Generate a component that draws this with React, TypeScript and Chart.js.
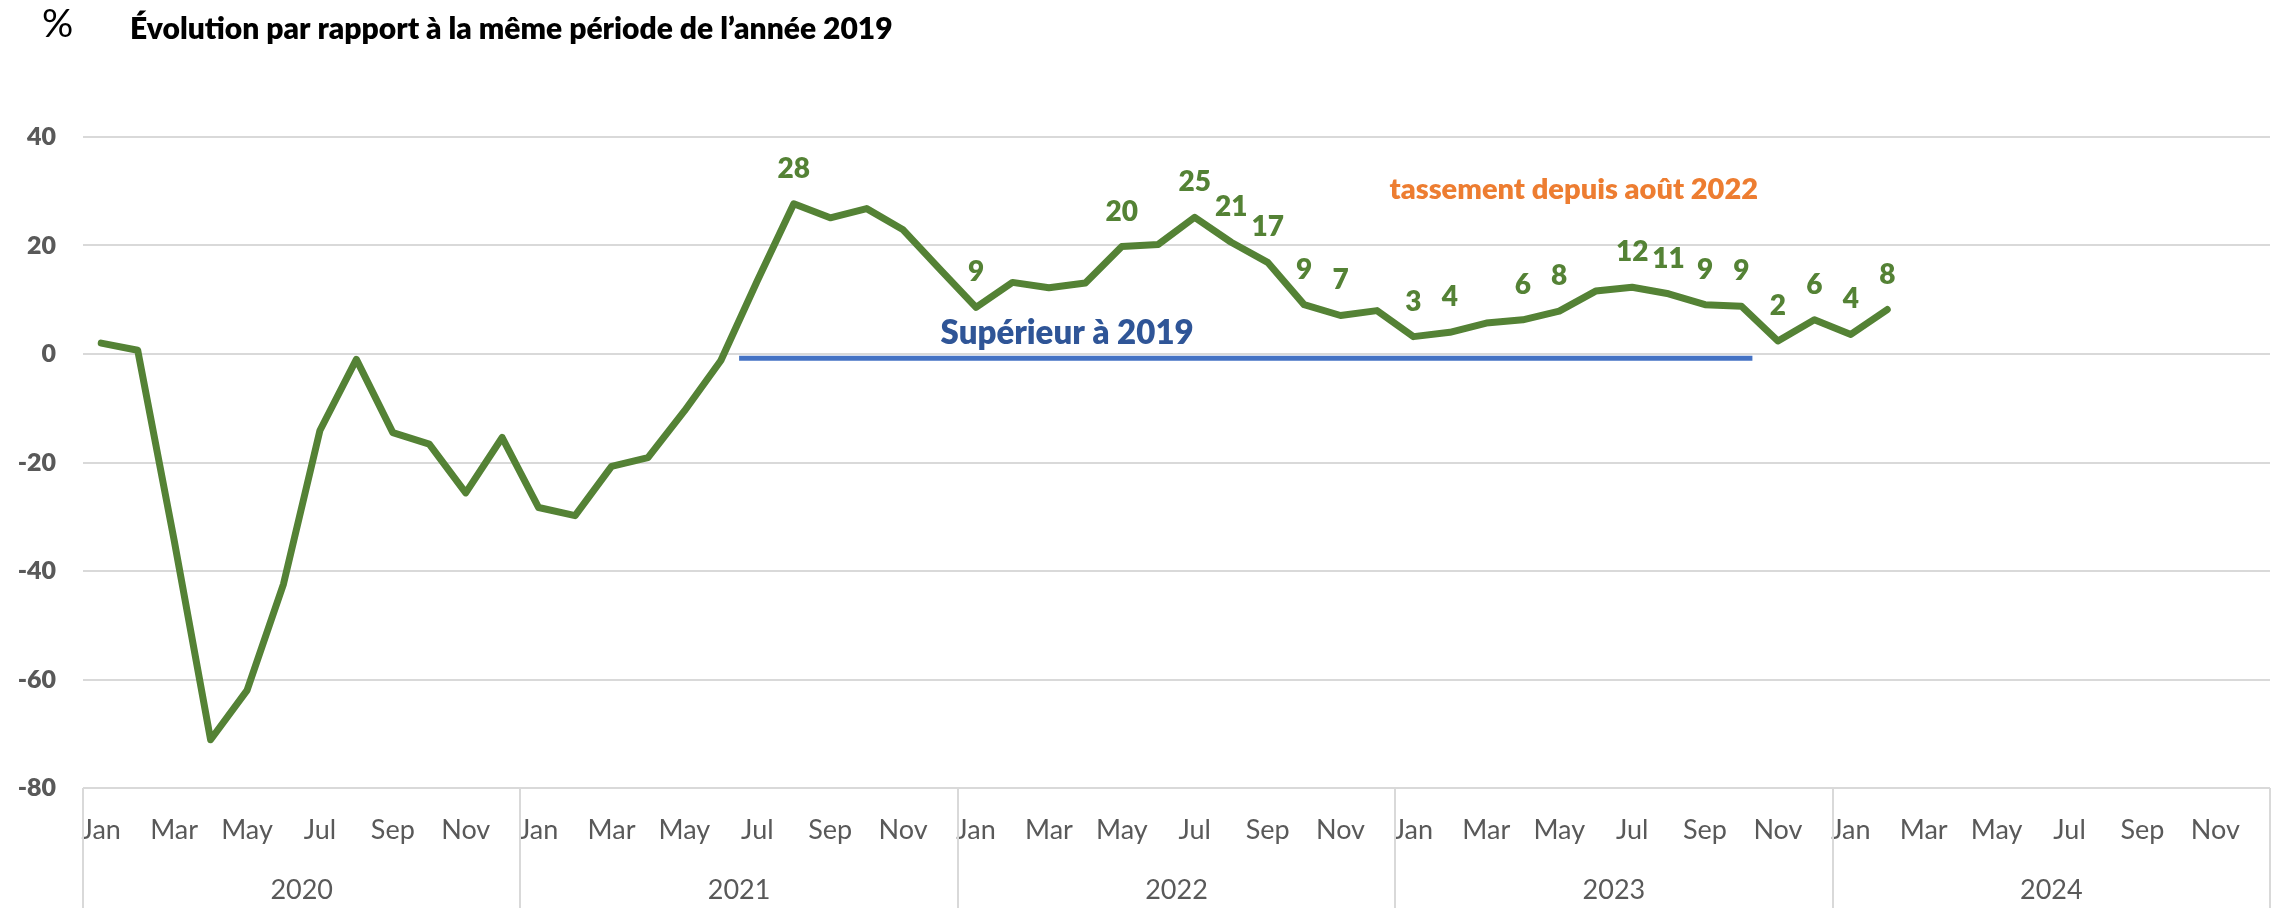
import React, { useEffect, useRef } from 'react';
import { Chart, registerables } from 'chart.js';

Chart.register(...registerables);

// ---- Data ----
const monthNames = ['Jan', 'Feb', 'Mar', 'Apr', 'May', 'Jun', 'Jul', 'Aug', 'Sep', 'Oct', 'Nov', 'Dec'];
const years = ['2020', '2021', '2022', '2023', '2024'];
const shownMonths = [0, 2, 4, 6, 8, 10]; // Jan, Mar, May, Jul, Sep, Nov
const values2020 = [2.0, 0.7, -34.3, -71.1, -62.0, -42.4, -14.1, -1.0, -14.5, -16.6, -25.6, -15.4];
const values2021 = [-28.3, -29.8, -20.7, -19.1, -10.5, -1.2, 13.5, 27.7, 25.1, 26.8, 22.9, 15.7];
const values2022 = [8.6, 13.2, 12.2, 13.1, 19.8, 20.2, 25.2, 20.6, 16.9, 9.1, 7.1, 8.0];
const values2023 = [3.2, 4.0, 5.7, 6.3, 7.9, 11.6, 12.3, 11.1, 9.1, 8.8, 2.4, 6.3];
const values2024 = [3.6, 8.2];
const labelledIndices = [19, 24, 28, 30, 31, 32, 33, 34, 36, 37, 39, 40, 42, 43, 44, 45, 46, 47, 48, 49];
const superieurLine = [
  { x: 17.5, y: -0.8 },
  { x: 45.3, y: -0.8 },
];
const yMin = -80;
const yMax = 40;
const yStep = 20;

const unitText = '%';
const titleText = 'Évolution par rapport à la même période de l’année 2019';
const superieurText = 'Supérieur à 2019';
const tassementText = 'tassement depuis août 2022';

const allValues = [...values2020, ...values2021, ...values2022, ...values2023, ...values2024];
const linePoints = allValues.map((v, i) => ({ x: i, y: v }));
const tickValues: number[] = [];
years.forEach((_, yi) => shownMonths.forEach((m) => tickValues.push(yi * 12 + m)));
const monthCount = years.length * 12;

const GREEN = '#548235';
const GRAY = '#595959';
const GRID = '#D9D9D9';
const FONT = 'Lato, "Open Sans", sans-serif';

const decorPlugin = {
  id: 'decor',
  afterDraw(chart: any) {
    const ctx = chart.ctx;
    const xs = chart.scales.x;
    const ys = chart.scales.y;
    ctx.save();
    // title
    ctx.fillStyle = '#000000';
    ctx.textBaseline = 'alphabetic';
    ctx.textAlign = 'left';
    ctx.font = `normal 39px ${FONT}`;
    ctx.fillText(unitText, 42, 37);
    ctx.font = `800 30px ${FONT}`;
    ctx.fillText(titleText, 130, 39);

    // year separators
    ctx.strokeStyle = GRID;
    ctx.lineWidth = 2;
    for (let k = 0; k <= years.length; k++) {
      const x = Math.round(xs.getPixelForValue(k * 12 - 0.5));
      ctx.beginPath();
      ctx.moveTo(x, xs.top);
      ctx.lineTo(x, chart.height);
      ctx.stroke();
    }
    // year labels
    ctx.fillStyle = GRAY;
    ctx.font = `normal 27px ${FONT}`;
    ctx.textAlign = 'center';
    ctx.textBaseline = 'middle';
    years.forEach((y, k) => {
      ctx.fillText(y, xs.getPixelForValue(k * 12 + 5.5), xs.top + 102);
    });

    // annotations
    ctx.textBaseline = 'alphabetic';
    ctx.font = `800 33px ${FONT}`;
    ctx.fillStyle = '#2F5597';
    ctx.fillText(superieurText, xs.getPixelForValue(26.5), ys.getPixelForValue(1.9));
    ctx.font = `800 29px ${FONT}`;
    ctx.fillStyle = '#ED7D31';
    ctx.fillText(tassementText, xs.getPixelForValue(40.4), ys.getPixelForValue(28.6));

    // data labels
    const meta = chart.getDatasetMeta(0);
    ctx.font = `800 28px ${FONT}`;
    ctx.fillStyle = GREEN;
    labelledIndices.forEach((i) => {
      const pt = meta.data[i];
      if (!pt) return;
      ctx.fillText(String(Math.round(allValues[i])), pt.x, pt.y - 26);
    });
    ctx.restore();
  },
};

export default function App() {
  const canvasRef = useRef<HTMLCanvasElement | null>(null);

  useEffect(() => {
    const canvas = canvasRef.current;
    if (!canvas) return;
    const chart = new Chart(canvas, {
      type: 'line',
      data: {
        datasets: [
          {
            label: 'Évolution',
            data: linePoints,
            borderColor: GREEN,
            borderWidth: 7,
            borderCapStyle: 'round',
            borderJoinStyle: 'round',
            pointRadius: 0,
            pointHoverRadius: 0,
            tension: 0,
            fill: false,
          },
          {
            label: superieurText,
            data: superieurLine,
            borderColor: '#4472C4',
            borderWidth: 5,
            borderCapStyle: 'butt',
            pointRadius: 0,
            pointHoverRadius: 0,
            tension: 0,
            fill: false,
          },
        ],
      },
      options: {
        animation: false,
        responsive: false,
        devicePixelRatio: 1,
        layout: { padding: { top: 137, right: 7, left: 0, bottom: 0 } },
        plugins: {
          legend: { display: false },
          tooltip: { enabled: false },
          title: { display: false },
        },
        scales: {
          x: {
            type: 'linear',
            min: -0.5,
            max: monthCount - 0.5,
            bounds: 'data',
            grid: { display: false, drawTicks: false },
            border: { display: false },
            afterBuildTicks: (scale: any) => {
              scale.ticks = tickValues.map((v) => ({ value: v }));
            },
            afterFit: (scale: any) => {
              scale.height = 120;
            },
            ticks: {
              autoSkip: false,
              maxRotation: 0,
              minRotation: 0,
              padding: 26,
              color: GRAY,
              font: { family: FONT, size: 27, weight: 'normal', lineHeight: 1.2 },
              callback: (value: any) => monthNames[((value % 12) + 12) % 12],
            },
          },
          y: {
            type: 'linear',
            min: yMin,
            max: yMax,
            grid: { color: GRID, lineWidth: 2, drawTicks: false },
            border: { display: false },
            afterFit: (scale: any) => {
              scale.width = 83;
            },
            ticks: {
              stepSize: yStep,
              padding: 27,
              color: GRAY,
              font: { family: FONT, size: 25, weight: '800' },
            },
          },
        },
      },
      plugins: [decorPlugin],
    });
    return () => chart.destroy();
  }, []);

  return (
    <div style={{ position: 'fixed', left: 0, top: 0, width: 2277, height: 908, background: '#ffffff' }}>
      <canvas ref={canvasRef} width={2277} height={908} style={{ display: 'block' }} />
    </div>
  );
}
